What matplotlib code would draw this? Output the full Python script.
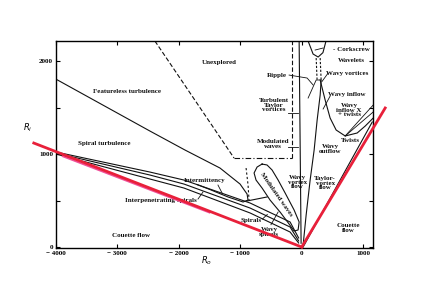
import numpy as np
import matplotlib
matplotlib.use("Agg")
import matplotlib.pyplot as plt

# ---------------- data ----------------
# featureless turbulence boundary + intermittency tongue
feat_x = [-4000, -2469, -1899, -1329, -1003, -889, -873, -954, -1199, -1500, -1700]
feat_y = [1806, 1247, 1043, 849, 677, 570, 505, 484, 538, 620, 671]

# interpenetrating spirals band (three lines)
band_x = [-4000, -2469, -1915, -840, -189, -50]
band_top = [1022, 806, 720, 473, 269, 97]
band_mid = [1011, 774, 677, 419, 215, 65]
band_bot = [1000, 731, 634, 366, 161, 43]

# modulated waves loop
loop_x = [-645, -726, -775, -743, -645, -515, -352, -205, -124, -59, -42,
          -124, -270, -384, -482, -564, -645]
loop_y = [892, 860, 796, 720, 634, 505, 376, 247, 172, 183, 269,
          398, 581, 720, 828, 882, 892]

# unexplored region boundary
unexp_x = [-2388, -1101]
unexp_y = [2215, 957]
box_x = [-1101, -156]
box_y = [957, 957]
vdash_x = [-156, -156]
vdash_y = [957, 2215]
short_dash_x = [-905, -873, -857]
short_dash_y = [849, 667, 505]
tongue_link_x = [-889, -564]
tongue_link_y = [495, 538]

# near Ro = 0
vert_x = [-42, -10]
vert_y = [2215, 40]
cork_x = [104, 185, 267, 345, 395]
cork_y = [2215, 2075, 2043, 2090, 2215]
ripple_v_x = [104, 235, 300]
ripple_v_y = [1602, 1796, 1796]
wvtv_x = [23, 72, 137, 202, 251, 300, 316]
wvtv_y = [22, 344, 720, 1043, 1366, 1634, 1796]
bigu_x = [300, 381, 462, 560, 707, 902, 1033, 1163]
bigu_y = [1796, 1581, 1387, 1258, 1194, 1226, 1301, 1387]
couette_x = [23, 1147]
couette_y = [0, 1344]
twist_end_y = [1527, 1452]

# overlaid red lines
red_left_x = [-4358, 0]
red_left_y = [1118, 0]
pink_x = [-3886, -1500]
pink_y = [975, 370]
red_right_x = [0, 1358]
red_right_y = [0, 1495]

# label leader lines (start, end)
leaders = [
    ((-1362, 666), (-1296, 581)),   # intermittency
    ((-1687, 516), (-1606, 591)),   # interpenetrating spirals
    ((-640, 300), (-560, 350)),     # spirals
    ((-500, 240), (-384, 376)),     # wavy spirals
    ((-222, 1441), (-55, 1441)),    # turbulent taylor vortices
    ((-222, 1075), (-55, 1075)),    # modulated waves
    ((218, 2118), (348, 2140)),     # corkscrew
    ((463, 1624), (348, 1484)),     # wavy inflow
    ((430, 1871), (330, 1780)),     # wavy vortices
]
ripple_lead_x = [-205, 88, 186]
ripple_lead_y = [1849, 1817, 1742]

fig = plt.figure(figsize=(4.36, 2.91), dpi=100)
ax = fig.add_axes([0.128, 0.148, 0.728, 0.711])
ax.set_xlim(-4000, 1163)
ax.set_ylim(-10, 2215)

lw = 0.8
k = "#111111"
ax.plot(feat_x, feat_y, color=k, lw=lw)
for yy in (band_top, band_mid, band_bot):
    ax.plot(band_x, yy, color=k, lw=lw)
ax.plot(loop_x, loop_y, color=k, lw=lw)
ax.plot(unexp_x, unexp_y, color=k, lw=lw, ls=(0, (4, 2)))
ax.plot(box_x, box_y, color=k, lw=lw, ls=(0, (5, 2, 1, 2)))
ax.plot(vdash_x, vdash_y, color=k, lw=lw, ls=(0, (4, 2)))
ax.plot(short_dash_x, short_dash_y, color=k, lw=lw, ls=(0, (2, 2)))
ax.plot(tongue_link_x, tongue_link_y, color=k, lw=lw)
ax.plot(vert_x, vert_y, color=k, lw=lw)
ax.plot(cork_x, cork_y, color=k, lw=lw)
ax.plot([235, 250], [2032, 1796], color=k, lw=lw, ls=(0, (2, 1.5)))
ax.plot([300, 316], [2032, 1796], color=k, lw=lw, ls=(0, (2, 1.5)))
ax.plot(ripple_v_x, ripple_v_y, color=k, lw=0.6)
ax.plot(wvtv_x, wvtv_y, color=k, lw=lw)
ax.plot(bigu_x, bigu_y, color=k, lw=lw)
ax.plot(couette_x, couette_y, color=k, lw=lw)
for ye in twist_end_y:
    ax.plot([707, 1163], [1194, ye], color=k, lw=0.6)
for (x0, y0), (x1, y1) in leaders:
    ax.plot([x0, x1], [y0, y1], color=k, lw=0.6)
ax.plot(ripple_lead_x, ripple_lead_y, color=k, lw=0.6)

# red overlay, allowed past the frame
ax.plot(red_left_x, red_left_y, color="#e8203a", lw=2.0, clip_on=False, zorder=5)
ax.plot(pink_x, pink_y, color="#f0509a", lw=1.3, clip_on=False, zorder=4)
ax.plot(red_right_x, red_right_y, color="#e8203a", lw=2.0, clip_on=False, zorder=5)

# ticks
ax.set_xticks([-4000, -3000, -2000, -1000, 0, 1000])
ax.set_xticklabels(["\u2212 4000", "\u2212 3000", "\u2212 2000", "\u2212 1000", "0", "1000"])
ax.set_yticks([0, 1000, 2000])
ax.set_yticks([500, 1500], minor=True)
ax.tick_params(which="both", direction="in", top=True, right=True,
               length=3, width=0.8, labelsize=5, pad=2)
for lab in ax.get_xticklabels() + ax.get_yticklabels():
    lab.set_fontfamily("Liberation Serif")
    lab.set_fontweight("bold")
for s in ax.spines.values():
    s.set_linewidth(1.0)

tf = dict(fontsize=5, fontfamily="Liberation Serif", fontweight="bold",
          ha="center", va="center", color=k)
ax.text(-2842, 1677, "Featureless turbulence", **tf)
ax.text(-3218, 1118, "Spiral turbulence", **tf)
ax.text(-1345, 1989, "Unexplored", **tf)
ax.text(-2779, 129, "Couette flow", **tf)
ax.text(-1573, 720, "Intermittency", **tf)
ax.text(-2290, 495, "Interpenetrating spirals", **tf)
ax.text(-830, 285, "Spirals", **tf)
ax.text(-530, 160, "Wavy\nspirals", linespacing=0.9, **tf)
ax.text(-420, 560, "Modulated waves", rotation=-55, **tf)
ax.text(-75, 699, "Wavy\nvortex\nflow", linespacing=0.9, **tf)
ax.text(381, 688, "Taylor-\nvortex\nflow", linespacing=0.9, **tf)
ax.text(756, 204, "Couette\nflow", linespacing=0.9, **tf)
ax.text(463, 1054, "Wavy\noutflow", linespacing=0.9, **tf)
ax.text(788, 1140, "Twists", **tf)
ax.text(739, 1645, "Wavy inflow", **tf)
ax.text(772, 1473, "Wavy\ninflow X\n+ twists", linespacing=0.9, **tf)
ax.text(739, 1871, "Wavy vortices", **tf)
ax.text(805, 2129, "- Corkscrew", **tf)
ax.text(805, 2011, "Wavelets", **tf)
ax.text(-401, 1849, "Ripple", **tf)
ax.text(-450, 1527, "Turbulent\nTaylor\nvortices", linespacing=0.9, **tf)
ax.text(-466, 1108, "Modulated\nwaves", linespacing=0.9, **tf)

ax.text(-1541, -150, "$R_o$", fontsize=6, ha="center", va="center", clip_on=False)
ax.text(-4456, 1280, "$R_i$", fontsize=6, ha="center", va="center", clip_on=False)

fig.savefig("out.png", dpi=100)
